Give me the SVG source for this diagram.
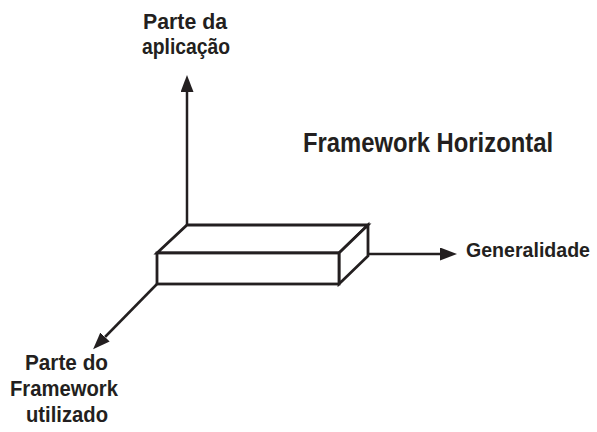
<svg xmlns="http://www.w3.org/2000/svg" width="597" height="432" viewBox="0 0 597 432">
  <style>
    .lbl { font-family: "Liberation Sans", Arial, sans-serif; font-weight: bold; fill: #231f20; }
    .axis { stroke: #231f20; stroke-width: 2.5; fill: none; }
    .edge { stroke: #231f20; stroke-width: 2.8; fill: #ffffff; stroke-linejoin: miter; }
  </style>
  <defs>
    <marker id="head" markerUnits="userSpaceOnUse" markerWidth="18" markerHeight="14" refX="0" refY="6.5" orient="auto">
      <path d="M0,0 L17,6.5 L0,13 z" fill="#231f20"/>
    </marker>
  </defs>

  <rect width="597" height="432" fill="#ffffff"/>

  <!-- axes -->
  <g id="connectors">
    <line class="axis" x1="187" y1="226" x2="187" y2="92" marker-end="url(#head)"/>
    <line class="axis" x1="368" y1="254" x2="440" y2="254" marker-end="url(#head)"/>
    <line class="axis" x1="157" y1="284" x2="105" y2="337" marker-end="url(#head)"/>
  </g>

  <!-- framework slab -->
  <g id="slab">
    <polygon class="edge" points="157,253 187,225 368,225 339,253"/>
    <polygon class="edge" points="339,253 368,225 368,256 339,284"/>
    <rect class="edge" x="157" y="253" width="182" height="31"/>
  </g>

  <g id="title">
    <text class="lbl" x="303" y="151.5" font-size="27" textLength="250" lengthAdjust="spacingAndGlyphs">Framework Horizontal</text>
  </g>

  <g id="label-app">
    <text class="lbl" x="143" y="28.5" font-size="21.5" textLength="84" lengthAdjust="spacingAndGlyphs">Parte da</text>
    <text class="lbl" x="142" y="53.5" font-size="21.5" textLength="88" lengthAdjust="spacingAndGlyphs">aplicação</text>
  </g>

  <g id="label-generality">
    <text class="lbl" x="466" y="257" font-size="20" textLength="124" lengthAdjust="spacingAndGlyphs">Generalidade</text>
  </g>

  <g id="label-framework">
    <text class="lbl" x="25" y="370" font-size="21.5" textLength="83" lengthAdjust="spacingAndGlyphs">Parte do</text>
    <text class="lbl" x="10" y="396" font-size="21.5" textLength="108" lengthAdjust="spacingAndGlyphs">Framework</text>
    <text class="lbl" x="26" y="422" font-size="21.5" textLength="82" lengthAdjust="spacingAndGlyphs">utilizado</text>
  </g>
</svg>
